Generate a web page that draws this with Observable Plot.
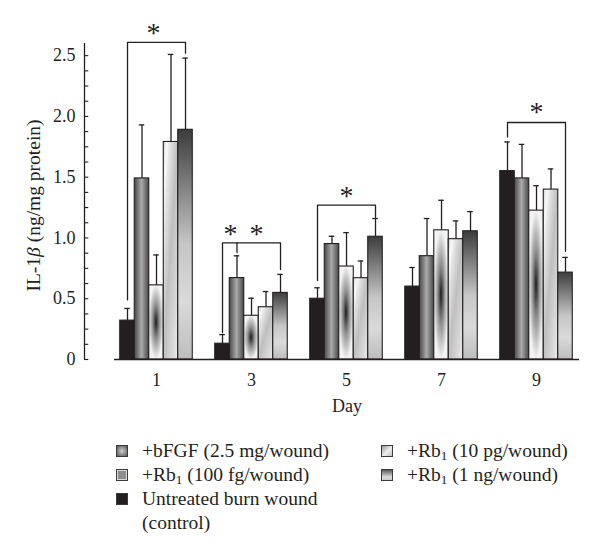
<!DOCTYPE html>
<html><head><meta charset="utf-8">
<script src="https://cdn.jsdelivr.net/npm/d3@7"></script>
<script src="https://cdn.jsdelivr.net/npm/@observablehq/plot@0.6"></script>
<style>
body{margin:0;background:#fff;font-family:"Liberation Serif",serif;color:#231f20;}
#chart{width:600px;height:425px;}
.legend{position:relative;width:600px;height:131px;font-size:19.5px;}
.item{position:absolute;white-space:nowrap;line-height:24px;}
.sw{position:absolute;width:10px;height:10px;border:1px solid #3a3a3a;}
sub{font-size:0.68em;vertical-align:-0.22em;line-height:0;}
</style></head><body>
<svg width="0" height="0" style="position:absolute">
<defs>
<linearGradient id="gBFGF" x1="0" y1="0" x2="1" y2="0">
<stop offset="0" stop-color="#484848"/><stop offset="0.5" stop-color="#aaaaaa"/><stop offset="1" stop-color="#484848"/>
</linearGradient>
<radialGradient id="g100" cx="0.5" cy="0.5" r="0.5">
<stop offset="0" stop-color="#1c1c1c"/><stop offset="0.45" stop-color="#8e8e8e"/><stop offset="1" stop-color="#f3f3f3"/>
</radialGradient>
<linearGradient id="g10" x1="0" y1="0" x2="1" y2="1">
<stop offset="0" stop-color="#d2d2d2"/><stop offset="0.14" stop-color="#f9f9f9"/><stop offset="0.22" stop-color="#e6e6e6"/><stop offset="0.5" stop-color="#bfbfbf"/><stop offset="0.8" stop-color="#d8d8d8"/><stop offset="1" stop-color="#ececec"/>
</linearGradient>
<linearGradient id="g1ng" x1="0" y1="0" x2="0" y2="1">
<stop offset="0" stop-color="#3c3c3c"/><stop offset="0.5" stop-color="#c6c6c6"/><stop offset="0.75" stop-color="#dadada"/><stop offset="1" stop-color="#bdbdbd"/>
</linearGradient>
</defs></svg>
<div id="chart"></div>
<div class="legend" id="legend"></div>
<script>
// ---- data ----
const days = [1, 3, 5, 7, 9];
const series = ["control", "bFGF", "Rb1 100fg", "Rb1 10pg", "Rb1 1ng"];
const control    = [0.32, 0.13, 0.50, 0.60, 1.55];
const controlErr = [0.42, 0.205, 0.59, 0.757, 1.79];
const bFGF       = [1.49, 0.67, 0.95, 0.85, 1.49];
const bFGFErr    = [1.93, 0.853, 1.014, 1.16, 1.77];
const rb100fg    = [0.61, 0.36, 0.765, 1.063, 1.225];
const rb100fgErr = [0.86, 0.504, 1.044, 1.31, 1.43];
const rb10pg     = [1.79, 0.43, 0.669, 0.99, 1.398];
const rb10pgErr  = [2.51, 0.559, 0.81, 1.14, 1.568];
const rb1ng      = [1.89, 0.548, 1.01, 1.055, 0.715];
const rb1ngErr   = [2.48, 0.70, 1.16, 1.217, 0.84];
const yTicks = [0, 0.5, 1.0, 1.5, 2.0, 2.5];
const yTickLabels = ["0", "0.5", "1.0", "1.5", "2.0", "2.5"];
const xLabel = "Day";
const yLabel = "IL-1β (ng/mg protein)";
// significance brackets: [series index, y]
const brackets = [
  {day: 1, pts: [[0, 0.49], [0, 2.61], [4, 2.61], [4, 2.52]]},
  {day: 3, pts: [[0, 0.22], [0, 0.96], [4, 0.96], [4, 0.74]]},
  {day: 3, pts: [[1, 0.96], [1, 0.88]]},
  {day: 5, pts: [[0, 0.65], [0, 1.27], [4, 1.27], [4, 1.17]]},
  {day: 9, pts: [[0, 1.83], [0, 1.95], [4, 1.95], [4, 0.89]]}
];
const stars = [
  {day: 1, slot: 1.8, y: 2.70},
  {day: 3, slot: 0.55, y: 1.05},
  {day: 3, slot: 2.35, y: 1.05},
  {day: 5, slot: 2.0, y: 1.36},
  {day: 9, slot: 2.0, y: 2.05}
];
const legendLabels = [
  ["bFGF", "+bFGF (2.5 mg/wound)"],
  ["Rb1 100fg", "+Rb<sub>1</sub> (100 fg/wound)"],
  ["control", "Untreated burn wound<br>(control)"],
  ["Rb1 10pg", "+Rb<sub>1</sub> (10 pg/wound)"],
  ["Rb1 1ng", "+Rb<sub>1</sub> (1 ng/wound)"]
];

// ---- styling / layout ----
const ink = "#231f20";
const fills = {"control": ink, "bFGF": "url(#gBFGF)", "Rb1 100fg": "url(#g100)", "Rb1 10pg": "url(#g10)", "Rb1 1ng": "url(#g1ng)"};
const barW = 0.3053;     // bar width in day units
const capHalf = 0.058;   // half width of error caps
const xDomain = [-0.516, 9.905];
const minorTicks = d3.range(0, 2.5001, 0.125);
const center = (day, slot) => day + (slot - 2) * barW;

const valuesBySeries = [control, bFGF, rb100fg, rb10pg, rb1ng];
const errBySeries = [controlErr, bFGFErr, rb100fgErr, rb10pgErr, rb1ngErr];
const bars = [];
days.forEach((day, di) => series.forEach((s, si) => bars.push({
  day, series: s, slot: si, value: valuesBySeries[si][di], err: errBySeries[si][di]
})));
const bracketRows = [];
brackets.forEach((b, bi) => b.pts.forEach(([slot, y]) => bracketRows.push({id: bi, x: center(b.day, slot), y})));

const chart = Plot.plot({
  width: 600, height: 425,
  marginLeft: 84, marginRight: 21, marginTop: 43, marginBottom: 66,
  x: {domain: xDomain, axis: null},
  y: {domain: [0, 2.6], axis: null},
  color: {type: "identity"},
  style: {fontFamily: "'Liberation Serif', serif", fontSize: "18px", color: ink, background: "white", overflow: "visible"},
  marks: [
    Plot.rectY(bars, {x1: d => center(d.day, d.slot) - barW / 2, x2: d => center(d.day, d.slot) + barW / 2,
      y1: 0, y2: "value", fill: d => fills[d.series], stroke: ink, strokeWidth: 1.1}),
    Plot.ruleX(bars, {x: d => center(d.day, d.slot), y1: "value", y2: "err", stroke: ink, strokeWidth: 1.3}),
    Plot.ruleY(bars, {y: "err", x1: d => center(d.day, d.slot) - capHalf, x2: d => center(d.day, d.slot) + capHalf, stroke: ink, strokeWidth: 1.3}),
    Plot.line(bracketRows, {x: "x", y: "y", z: "id", stroke: ink, strokeWidth: 1.3, curve: "linear"}),
    Plot.text(stars, {x: d => center(d.day, d.slot), y: "y", text: () => "*", fontSize: 28, dy: 2, fill: ink}),
    // axes
    Plot.ruleY([0], {insetLeft: 30, stroke: ink, strokeWidth: 1.3}),
    Plot.ruleX([xDomain[0]], {y1: 0, y2: 2.6, stroke: ink, strokeWidth: 1.3}),
    Plot.ruleY(minorTicks, {y: d => d, x1: xDomain[0], x2: xDomain[0] + 0.09, stroke: ink, strokeWidth: 1.1}),
    Plot.text(yTicks, {x: xDomain[0], y: d => d, text: (d, i) => yTickLabels[i], textAnchor: "end", dx: -9, fill: ink}),
    Plot.text(days, {x: d => d, y: 0, text: d => String(d), dy: 21, fill: ink}),
    Plot.text([xLabel], {frameAnchor: "bottom", dx: 15, dy: 52, fill: ink}),
    Plot.text([yLabel], {frameAnchor: "left", rotate: -90, textAnchor: "middle", dx: -51, dy: 4, fontSize: 19.5, fill: ink})
  ]
});
document.getElementById("chart").appendChild(chart);

// italic beta in the y label
for (const t of chart.querySelectorAll("text")) {
  if (t.textContent === yLabel) {
    t.textContent = "";
    const parts = [["IL-1", null], ["β", "italic"], [" (ng/mg protein)", null]];
    for (const [s, st] of parts) {
      const ts = document.createElementNS("http://www.w3.org/2000/svg", "tspan");
      ts.textContent = s;
      if (st) ts.setAttribute("font-style", st);
      t.appendChild(ts);
    }
  }
}

// legend
const swatchCss = {
  "bFGF": "background:radial-gradient(circle,#d0d0d0,#555);",
  "Rb1 100fg": "background:#8d8d8d;box-shadow:inset 0 0 0 1px #d9d9d9;",
  "control": "background:#231f20;",
  "Rb1 10pg": "background:linear-gradient(135deg,#9a9a9a,#eeeeee 55%,#c0c0c0);",
  "Rb1 1ng": "background:linear-gradient(180deg,#5a5a5a,#dedede 70%,#c8c8c8);"
};
const legendPos = [[116, 142, 20], [116, 142, 44], [116, 142, 68], [381, 407, 20], [381, 407, 44]];
const lg = document.getElementById("legend");
legendLabels.forEach(([key, html], i) => {
  const [sx, tx, cy] = legendPos[i];
  const sw = document.createElement("div");
  sw.className = "sw";
  sw.style.cssText = `left:${sx}px;top:${cy}px;` + swatchCss[key];
  lg.appendChild(sw);
  const it = document.createElement("div");
  it.className = "item";
  it.style.left = tx + "px";
  it.style.top = (cy - 6) + "px";
  it.innerHTML = html;
  lg.appendChild(it);
});
</script>
</body></html>
